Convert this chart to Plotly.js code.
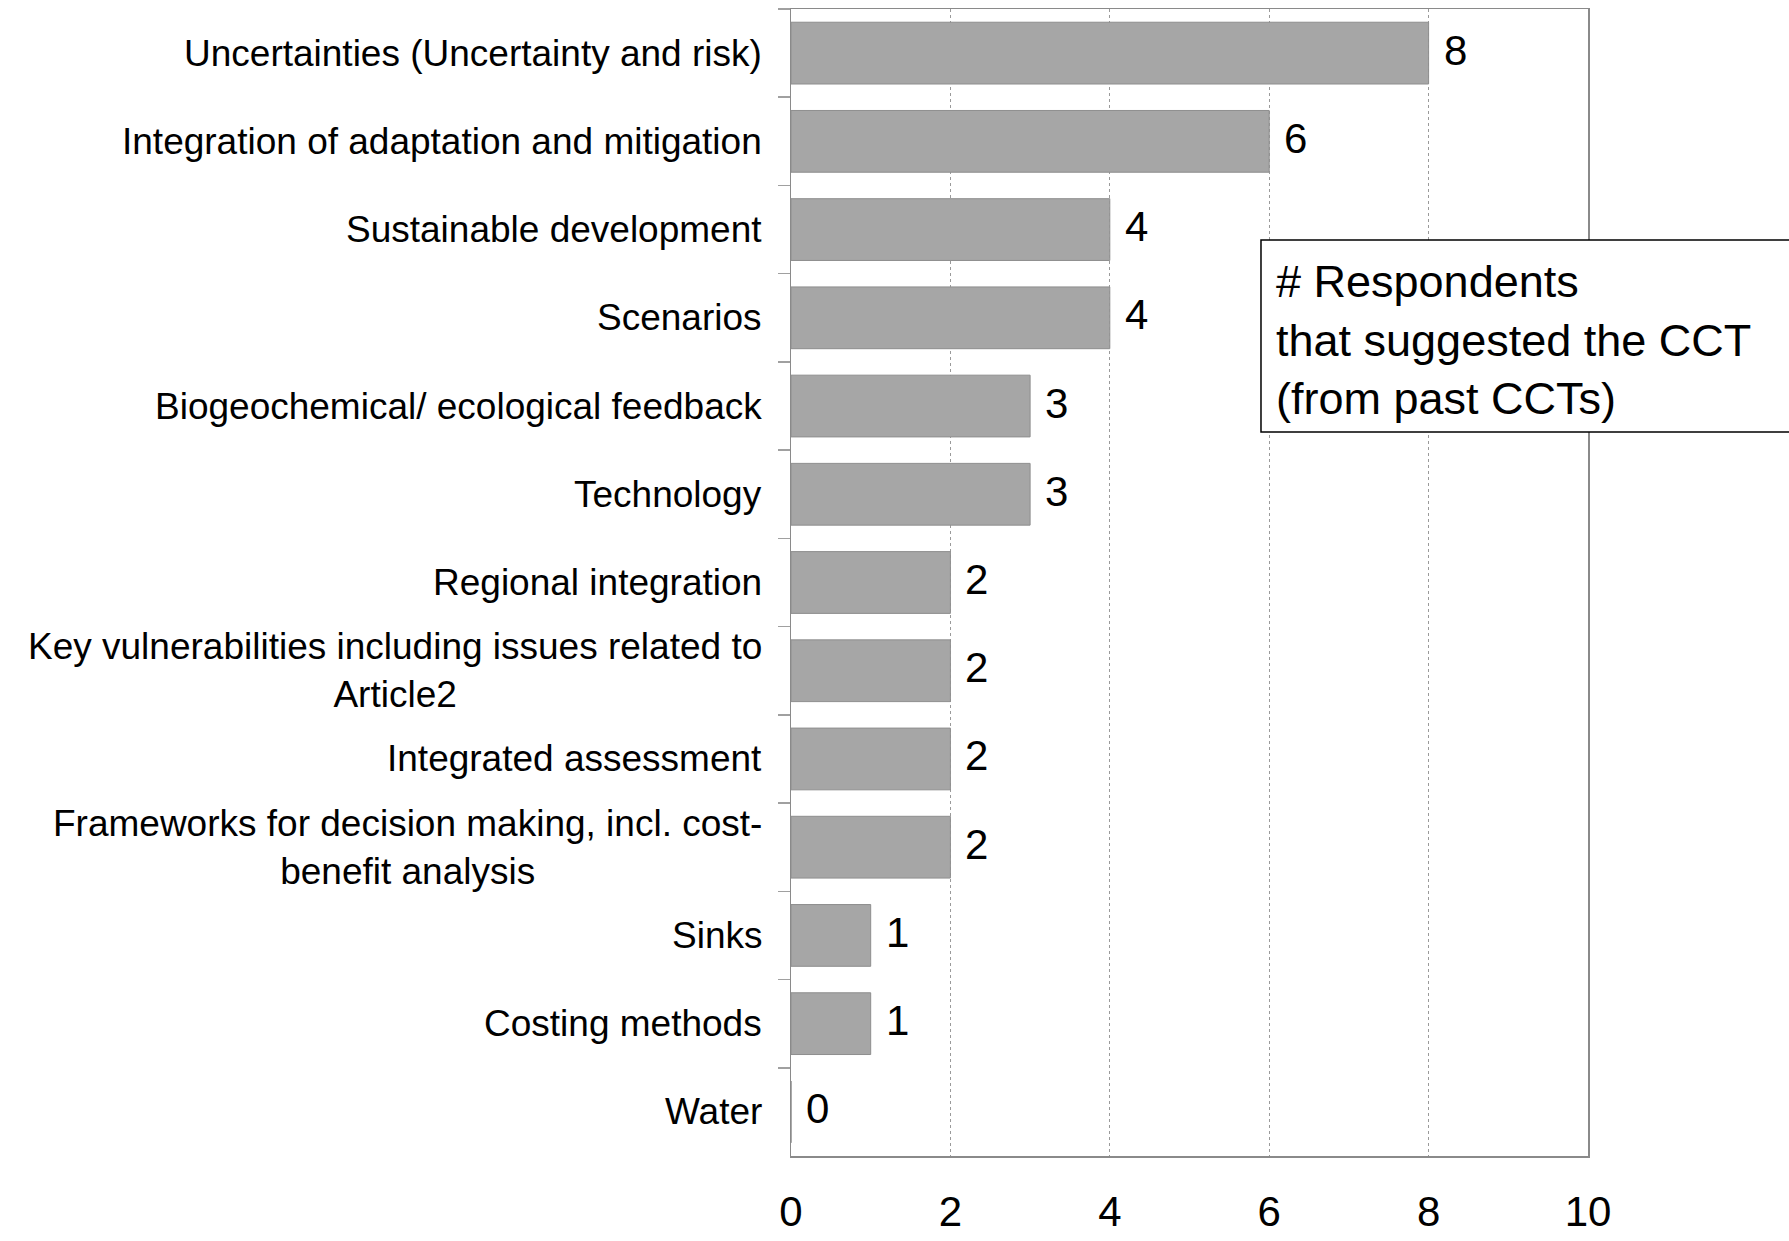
<!DOCTYPE html>
<html>
<head>
<meta charset="utf-8">
<script src="https://cdn.plot.ly/plotly-3.0.1.min.js"></script>
<style>
  html, body { margin: 0; padding: 0; background: #ffffff; }
  #chart { width: 1789px; height: 1241px; }
</style>
</head>
<body>
<div id="chart"></div>
<script>
// ---- Data (top to bottom) ----
const categories = [
  "Uncertainties (Uncertainty and risk)",
  "Integration of adaptation and mitigation",
  "Sustainable development",
  "Scenarios",
  "Biogeochemical/ ecological feedback",
  "Technology",
  "Regional integration",
  "Key vulnerabilities including issues related to<br>Article2",
  "Integrated assessment",
  "Frameworks for decision making, incl. cost-<br>benefit analysis",
  "Sinks",
  "Costing methods",
  "Water"
];
const respondents = [8, 6, 4, 4, 3, 3, 2, 2, 2, 2, 1, 1, 0];
const xTicks = [0, 2, 4, 6, 8, 10];
const boxText = "# Respondents<br>that suggested the CCT<br>(from past CCTs)";

const FONT = '"Liberation Sans", Arial, Helvetica, sans-serif';

const trace = {
  type: 'bar',
  orientation: 'h',
  x: respondents,
  y: categories,
  marker: { color: '#a6a6a6', line: { color: '#8e8e8e', width: 1 } },
  hoverinfo: 'x+y'
};

const annotations = [];
// category labels (centered multi-line, right-anchored at the axis)
categories.forEach((c) => {
  annotations.push({
    xref: 'paper', yref: 'y', x: 0, y: c,
    xanchor: 'right', yanchor: 'middle', xshift: -27,
    text: c, showarrow: false, align: 'center',
    font: { family: FONT, size: 37, color: '#000000' }
  });
});
// value labels
respondents.forEach((v, i) => {
  annotations.push({
    xref: 'x', yref: 'y', x: v, y: categories[i],
    xanchor: 'left', yanchor: 'middle', xshift: 13, yshift: 3,
    text: String(v), showarrow: false,
    font: { family: FONT, size: 42, color: '#000000' }
  });
});
// box text
annotations.push({
  xref: 'paper', yref: 'paper', x: 0.606, y: 0.7114,
  xanchor: 'left', yanchor: 'middle',
  text: boxText, showarrow: false, align: 'left',
  font: { family: FONT, size: 45, color: '#000000' }
});

const layout = {
  width: 1789, height: 1241,
  margin: { l: 791, r: 201, t: 9, b: 85, pad: 0 },
  paper_bgcolor: '#ffffff', plot_bgcolor: '#ffffff',
  showlegend: false,
  bargap: 0.30,
  font: { family: FONT, color: '#000000' },
  xaxis: {
    range: [0, 10],
    tickvals: xTicks,
    ticktext: xTicks.map(String),
    ticks: '',
    ticklabelstandoff: 18,
    tickfont: { family: FONT, size: 42, color: '#000000' },
    showgrid: true, gridcolor: '#9a9a9a', griddash: 'dot', gridwidth: 1,
    zeroline: false,
    showline: true, linecolor: '#8a8a8a', linewidth: 1.5, mirror: true
  },
  yaxis: {
    type: 'category',
    autorange: 'reversed',
    showticklabels: false,
    ticks: 'outside', tickson: 'boundaries', ticklen: 12,
    tickcolor: '#a0a0a0', tickwidth: 1.5,
    showgrid: false, zeroline: false,
    showline: true, linecolor: '#8a8a8a', linewidth: 1.5, mirror: true
  },
  shapes: [{
    type: 'rect', xref: 'paper', yref: 'paper',
    x0: 0.5897, x1: 1.3, y0: 0.6312, y1: 0.7986,
    line: { color: '#000000', width: 1.5 },
    fillcolor: '#ffffff', layer: 'above'
  }],
  annotations: annotations
};

Plotly.newPlot('chart', [trace], layout, { displayModeBar: false, staticPlot: true });
</script>
</body>
</html>
